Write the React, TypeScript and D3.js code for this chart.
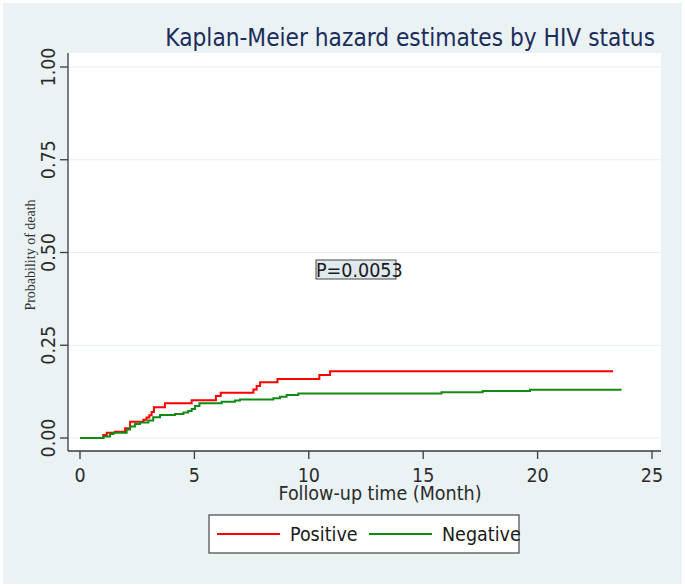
import { useEffect, useRef } from 'react';
import * as d3 from 'd3';

// Kaplan-Meier failure estimates
const positiveTime = [0, 1.02, 1.17, 1.53, 1.97, 2.19, 2.77, 2.91, 3.03, 3.13, 3.23, 3.71, 4.88, 5.94, 6.15, 7.58, 7.72, 7.87, 8.63, 10.46, 10.93, 23.3];
const positiveProb = [0, 0.008, 0.014, 0.017, 0.026, 0.044, 0.049, 0.055, 0.061, 0.07, 0.083, 0.094, 0.102, 0.113, 0.122, 0.131, 0.14, 0.15, 0.159, 0.17, 0.18, 0.18];

const negativeTime = [0, 1.02, 1.31, 1.46, 2.04, 2.19, 2.4, 2.62, 2.99, 3.2, 3.5, 4.15, 4.52, 4.73, 4.88, 5.03, 5.22, 6.19, 6.77, 6.99, 8.45, 8.74, 9.03, 9.54, 15.8, 17.6, 19.67, 23.67];
const negativeProb = [0, 0.004, 0.011, 0.014, 0.023, 0.031, 0.038, 0.042, 0.047, 0.056, 0.062, 0.065, 0.069, 0.073, 0.078, 0.086, 0.094, 0.098, 0.101, 0.104, 0.107, 0.111, 0.116, 0.12, 0.123, 0.127, 0.13, 0.13];

const xTicks = [0, 5, 10, 15, 20, 25];
const yTicks = [0, 0.25, 0.5, 0.75, 1];
const seriesNames = ['Positive', 'Negative'];
const seriesColors = ['#ff0000', '#138a13'];
const pValueLabel = 'P=0.0053';

const W = 685;
const H = 587;
const plot = { left: 68, right: 661, top: 53, bottom: 451 };

const App = () => {
  const svgRef = useRef<SVGSVGElement | null>(null);

  useEffect(() => {
    if (!svgRef.current) return;
    const svg = d3.select(svgRef.current);
    svg.selectAll('*').remove();

    const font = "'DejaVu Sans Condensed', 'DejaVu Sans', sans-serif";
    const axisColor = '#3a3a3a';

    const x = d3.scaleLinear().domain([0, 25]).range([80, 652]);
    const y = d3.scaleLinear().domain([0, 1]).range([438, 67]);

    const txt = (sel: d3.Selection<SVGTextElement, any, any, any>, size: number) =>
      sel.attr('font-family', font).attr('font-stretch', 'condensed').attr('font-size', size);

    // graph region
    svg.append('rect').attr('width', W).attr('height', H).attr('fill', '#ffffff');
    svg.append('rect')
      .attr('x', 3).attr('y', 3).attr('width', W - 6).attr('height', H - 6)
      .attr('fill', '#eaf2f3');

    // plot region
    svg.append('rect')
      .attr('x', plot.left).attr('y', plot.top)
      .attr('width', plot.right - plot.left).attr('height', plot.bottom - plot.top)
      .attr('fill', '#ffffff');

    // grid
    svg.append('g')
      .selectAll('line')
      .data(yTicks)
      .join('line')
      .attr('x1', plot.left).attr('x2', plot.right)
      .attr('y1', d => y(d)).attr('y2', d => y(d))
      .attr('stroke', '#e6eff1').attr('stroke-width', 1.2);

    // y axis
    const yAxis = svg.append('g');
    yAxis.append('line')
      .attr('x1', plot.left).attr('x2', plot.left)
      .attr('y1', plot.top).attr('y2', plot.bottom)
      .attr('stroke', axisColor).attr('stroke-width', 1.3);
    yAxis.selectAll('line.tick')
      .data(yTicks)
      .join('line')
      .attr('class', 'tick')
      .attr('x1', plot.left - 8).attr('x2', plot.left)
      .attr('y1', d => y(d)).attr('y2', d => y(d))
      .attr('stroke', axisColor).attr('stroke-width', 1.3);
    yAxis.selectAll('text')
      .data(yTicks)
      .join('text')
      .attr('transform', d => `translate(54.5,${y(d)}) rotate(-90)`)
      .attr('text-anchor', 'middle')
      .call(txt, 19.5)
      .attr('fill', '#2b2b2b')
      .text(d => d3.format('.2f')(d));

    svg.append('text')
      .attr('transform', `translate(35,255) rotate(-90)`)
      .attr('text-anchor', 'middle')
      .attr('font-family', "'Liberation Serif', 'Times New Roman', serif")
      .attr('font-size', 14)
      .attr('fill', '#333')
      .text('Probability of death');

    // x axis
    const xAxis = svg.append('g');
    xAxis.append('line')
      .attr('x1', plot.left).attr('x2', plot.right)
      .attr('y1', plot.bottom).attr('y2', plot.bottom)
      .attr('stroke', axisColor).attr('stroke-width', 1.3);
    xAxis.selectAll('line.tick')
      .data(xTicks)
      .join('line')
      .attr('class', 'tick')
      .attr('x1', d => x(d)).attr('x2', d => x(d))
      .attr('y1', plot.bottom).attr('y2', plot.bottom + 8)
      .attr('stroke', axisColor).attr('stroke-width', 1.3);
    xAxis.selectAll('text')
      .data(xTicks)
      .join('text')
      .attr('x', d => x(d)).attr('y', 482)
      .attr('text-anchor', 'middle')
      .call(txt, 19.5)
      .attr('fill', '#2b2b2b')
      .text(d => String(d));

    svg.append('text')
      .attr('x', 380).attr('y', 500)
      .attr('text-anchor', 'middle')
      .call(txt, 19.5)
      .attr('fill', '#2b2b2b')
      .text('Follow-up time (Month)');

    // title
    svg.append('text')
      .attr('x', 655).attr('y', 46)
      .attr('text-anchor', 'end')
      .call(txt, 24.2)
      .attr('fill', '#1c2c5c')
      .text('Kaplan-Meier hazard estimates by HIV status');

    // curves
    const line = d3.line<[number, number]>()
      .x(d => x(d[0]))
      .y(d => y(d[1]))
      .curve(d3.curveStepAfter);

    const series: [number, number][][] = [
      positiveTime.map((t, i) => [t, positiveProb[i]]),
      negativeTime.map((t, i) => [t, negativeProb[i]]),
    ];

    svg.append('g')
      .selectAll('path')
      .data(series)
      .join('path')
      .attr('d', d => line(d))
      .attr('fill', 'none')
      .attr('stroke', (_, i) => seriesColors[i])
      .attr('stroke-width', 2);

    // p-value box
    svg.append('rect')
      .attr('x', 316).attr('y', 260).attr('width', 80).attr('height', 19)
      .attr('fill', '#dfe9ee').attr('stroke', '#444').attr('stroke-width', 1);
    svg.append('text')
      .attr('x', 316).attr('y', 277)
      .call(txt, 19.5)
      .attr('fill', '#1a1a1a')
      .text(pValueLabel);

    // legend
    const legend = svg.append('g');
    legend.append('rect')
      .attr('x', 209).attr('y', 515).attr('width', 310).attr('height', 38)
      .attr('fill', '#ffffff').attr('stroke', '#555').attr('stroke-width', 1.3);
    const items = legend.selectAll('g.item')
      .data(seriesNames)
      .join('g')
      .attr('class', 'item')
      .attr('transform', (_, i) => `translate(${217 + i * 152},534)`);
    items.append('line')
      .attr('x1', 0).attr('x2', 63)
      .attr('stroke', (_, i) => seriesColors[i]).attr('stroke-width', 2);
    items.append('text')
      .attr('x', 73).attr('y', 7)
      .call(txt, 19.5)
      .attr('fill', '#1a1a1a')
      .text(d => d);
  }, []);

  return (
    <svg ref={svgRef} width={W} height={H} style={{ position: 'absolute', left: 0, top: 0 }} />
  );
};

export default App;
